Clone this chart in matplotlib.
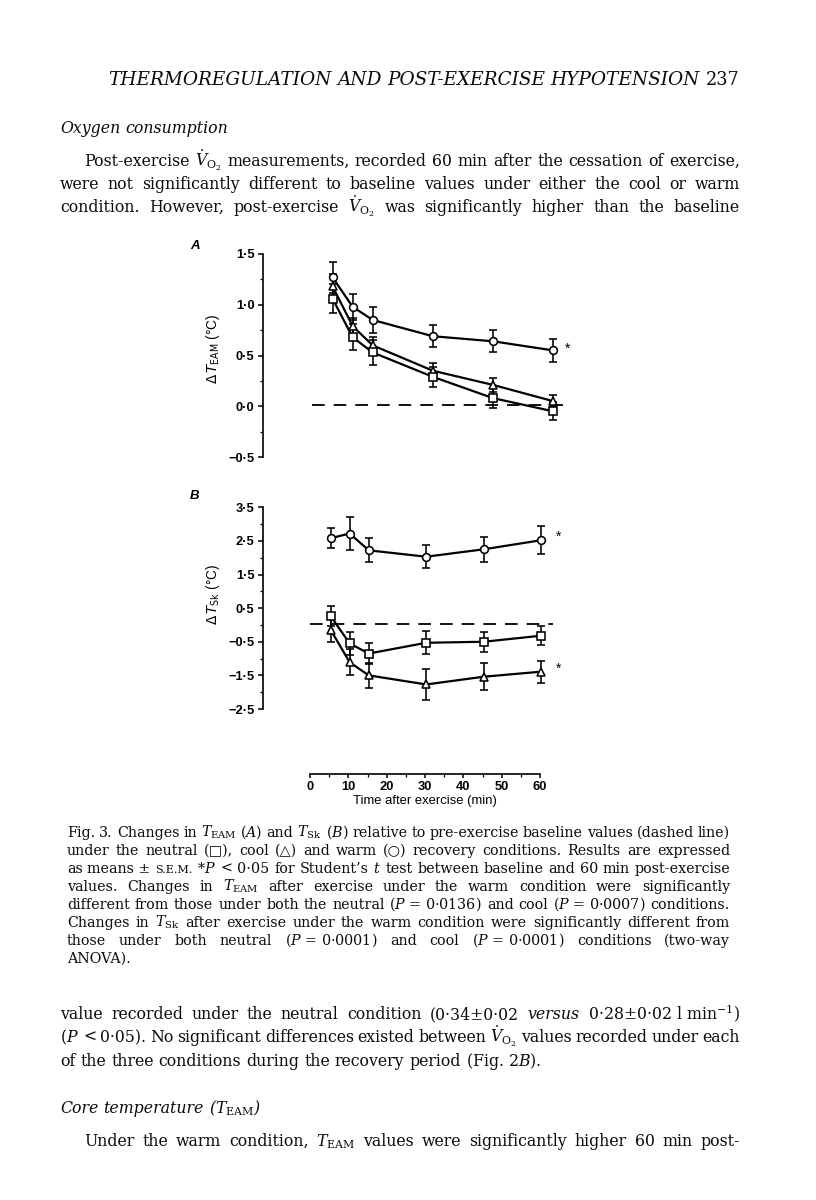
import matplotlib
matplotlib.use('Agg')
import numpy as np
import matplotlib.pyplot as plt
from matplotlib.ticker import MultipleLocator, FixedLocator, FuncFormatter, NullLocator

# ---------------- data ----------------
time_min = [5, 10, 15, 30, 45, 60]

team_neutral = [1.06, 0.68, 0.53, 0.29, 0.08, -0.05]
team_neutral_err = [0.14, 0.13, 0.12, 0.10, 0.10, 0.09]
team_cool = [1.18, 0.79, 0.60, 0.35, 0.21, 0.05]
team_cool_err = [0.12, 0.08, 0.08, 0.08, 0.07, 0.06]
team_warm = [1.27, 0.98, 0.85, 0.69, 0.64, 0.55]
team_warm_err = [0.15, 0.13, 0.13, 0.11, 0.11, 0.11]

tsk_neutral = [0.27, -0.55, -0.85, -0.53, -0.50, -0.32]
tsk_neutral_err = [0.30, 0.33, 0.30, 0.34, 0.30, 0.29]
tsk_cool = [-0.14, -1.11, -1.50, -1.77, -1.54, -1.39]
tsk_cool_err = [0.36, 0.38, 0.38, 0.46, 0.40, 0.33]
tsk_warm = [2.58, 2.72, 2.22, 2.03, 2.25, 2.52]
tsk_warm_err = [0.29, 0.48, 0.36, 0.35, 0.38, 0.42]

baseline = 0.0
teamA_ticks = [-0.5, 0.0, 0.5, 1.0, 1.5]
tskB_ticks = [-2.5, -1.5, -0.5, 0.5, 1.5, 2.5, 3.5]
time_ticks = [0, 10, 20, 30, 40, 50, 60]

# ---------------- page setup ----------------
W, H = 816, 1200
plt.rcParams['font.family'] = ['Liberation Sans', 'DejaVu Sans']
fig = plt.figure(figsize=(W / 100, H / 100), dpi=100)
fig.patch.set_facecolor('white')
renderer = fig.canvas.get_renderer()

SERIF = ['DejaVu Serif', 'DejaVu Sans']
INK = '#0a0a0a'


def P(x, y):
    return (x / W, 1 - y / H)


def _build(tokens, size, style):
    objs = []
    for tok in tokens:
        if isinstance(tok, tuple):
            s, kw = tok
        else:
            s, kw = tok, {}
        props = dict(fontsize=size, family=SERIF, style=style,
                     math_fontfamily='dejavuserif', va='baseline', ha='left',
                     color=INK)
        kw = dict(kw)
        if 'rel' in kw:
            kw['fontsize'] = size * kw.pop('rel')
        props.update(kw)
        objs.append(fig.text(0, 0, s, **props))
    widths = [t.get_window_extent(renderer).width for t in objs]
    a = fig.text(0, 0, 'n n', fontsize=size, family=SERIF)
    b = fig.text(0, 0, 'nn', fontsize=size, family=SERIF)
    space = a.get_window_extent(renderer).width - b.get_window_extent(renderer).width
    a.remove(); b.remove()
    return objs, widths, space


def line(tokens, x0, y, size, x1=None, style='normal', fit=False):
    objs, widths, space = _build(tokens, size, style)
    n = len(objs)
    if x1 is not None and n > 1:
        if fit:
            total = sum(widths) + (n - 1) * space
            size = size * (x1 - x0) / total
            for t in objs:
                t.remove()
            objs, widths, space = _build(tokens, size, style)
        else:
            for _ in range(8):
                gap = (x1 - x0 - sum(widths)) / (n - 1)
                if gap >= 0.55 * space:
                    break
                for t in objs:
                    t.remove()
                size *= 0.985
                objs, widths, space = _build(tokens, size, style)
        gap = (x1 - x0 - sum(widths)) / (n - 1)
    else:
        gap = space
    x = x0
    for t, w in zip(objs, widths):
        t.set_position(P(x, y))
        x += w + gap
    return size


VO2 = r'$\dot{V}_{\mathrm{O}_2}$'
TEAM = r'$T_{\mathrm{EAM}}$'
TSK = r'$T_{\mathrm{Sk}}$'

# header
hs = line(['THERMOREGULATION', 'AND', 'POST-EXERCISE', 'HYPOTENSION'], 108, 85, 12.0,
          x1=700, style='italic', fit=True)
fig.text(*P(740, 85), '237', fontsize=hs * 0.95, family=SERIF, ha='right', va='baseline',
         color=INK)

BODY = 11.3
line(['Oxygen', 'consumption'], 60, 133, BODY, style='italic')
line(['Post-exercise', VO2, 'measurements,', 'recorded', '60', 'min', 'after', 'the',
      'cessation', 'of', 'exercise,'], 84, 166, BODY, x1=740)
line('were not significantly different to baseline values under either the cool or warm'.split(),
     60, 189, BODY, x1=740)
line(['condition.', 'However,', 'post-exercise', VO2, 'was', 'significantly', 'higher',
      'than', 'the', 'baseline'], 60, 212, BODY, x1=740)

CAP = 10.3
SC = {'rel': 0.78}
cap_lines = [
    (['Fig.', '3.', 'Changes', 'in', TEAM, r'($A$)', 'and', TSK, r'($B$)', 'relative',
      'to', 'pre-exercise', 'baseline', 'values', '(dashed', 'line)'], True),
    (['under', 'the', 'neutral', '(□),', 'cool', '(△)', 'and', 'warm', '(○)', 'recovery',
      'conditions.', 'Results', 'are', 'expressed'], True),
    (['as', 'means ±', ('S.E.M.', SC), r'*$P$', '<', '0·05', 'for', 'Student’s', r'$t$',
      'test', 'between', 'baseline', 'and', '60', 'min', 'post-exercise'], True),
    (['values.', 'Changes', 'in', TEAM, 'after', 'exercise', 'under', 'the', 'warm',
      'condition', 'were', 'significantly'], True),
    (['different', 'from', 'those', 'under', 'both', 'the', 'neutral', r'($P$ = 0·0136)',
      'and', 'cool', r'($P$ = 0·0007)', 'conditions.'], True),
    (['Changes', 'in', TSK, 'after', 'exercise', 'under', 'the', 'warm', 'condition',
      'were', 'significantly', 'different', 'from'], True),
    (['those', 'under', 'both', 'neutral', r'($P$ = 0·0001)', 'and', 'cool',
      r'($P$ = 0·0001)', 'conditions', '(two-way'], True),
    (['ANOVA).'], False),
]
cap_y = [837, 855, 873, 891, 909, 927, 945, 963]
for (toks, just), yy in zip(cap_lines, cap_y):
    line(toks, 67, yy, CAP, x1=730 if just else None)

line(['value', 'recorded', 'under', 'the', 'neutral', 'condition', '(0·34±0·02',
      ('versus', {'style': 'italic'}), r'0·28±0·02 l min$^{-1}$)'], 60, 1019, BODY, x1=740)
line([r'($P$', '<', '0·05).', 'No', 'significant', 'differences', 'existed', 'between',
      VO2, 'values', 'recorded', 'under', 'each'], 60, 1042, BODY, x1=740)
line('of the three conditions during the recovery period'.split() + [r'(Fig. 2$B$).'],
     60, 1066, BODY)
line(['Core', 'temperature', '(' + TEAM + ')'], 60, 1113, BODY, style='italic')
line(['Under', 'the', 'warm', 'condition,', TEAM, 'values', 'were', 'significantly',
      'higher', '60', 'min', 'post-'], 84, 1146, BODY, x1=740)


# ---------------- chart ----------------
def add_ax(x0, x1, ytop, ybot):
    return fig.add_axes([x0 / W, 1 - ybot / H, (x1 - x0) / W, (ybot - ytop) / H])


def fmt(v, pos):
    if abs(v) < 1e-9:
        v = 0.0
    return f'{v:.1f}'.replace('.', '·').replace('-', '−')


def style_yaxis(ax):
    for s in ['top', 'right', 'bottom']:
        ax.spines[s].set_visible(False)
    ax.spines['left'].set_linewidth(1.2)
    ax.xaxis.set_major_locator(NullLocator())
    ax.xaxis.set_minor_locator(NullLocator())
    ax.yaxis.set_major_formatter(FuncFormatter(fmt))
    ax.tick_params(axis='y', which='major', direction='out', length=3.8, width=1.1,
                   labelsize=9.3, pad=2)
    ax.tick_params(axis='y', which='minor', direction='out', length=2.2, width=0.9)
    for lab in ax.get_yticklabels():
        lab.set_fontweight('bold')
    ax.patch.set_alpha(0)


LW = 1.6
series_style = dict(color='black', lw=LW)
mk = dict(ms=5.6, mfc='white', mec='black', mew=1.15, linestyle='none')


def draw(ax, series):
    for vals, err, m in series:
        ax.errorbar(time_min, vals, yerr=err, fmt='none', ecolor='black',
                    elinewidth=1.15, capsize=2.6, capthick=1.15, zorder=2)
    for vals, err, m in series:
        ax.plot(time_min, vals, '-', zorder=3, **series_style)
    for vals, err, m in series:
        ms = dict(mk)
        if m == '^':
            ms['ms'] = 6.2
        if m == 's':
            ms['ms'] = 5.4
        ax.plot(time_min, vals, marker=m, zorder=4, **ms)


# Panel A
axA = add_ax(262.5, 580, 254, 457)
axA.set_xlim(-12.46, 66.67)
axA.set_ylim(-0.5, 1.5)
axA.yaxis.set_major_locator(FixedLocator(teamA_ticks))
axA.yaxis.set_minor_locator(MultipleLocator(0.25))
style_yaxis(axA)
axA.hlines(baseline + 0.01, -0.2, 64.2, colors='black', lw=1.3, linestyles=(0, (7, 5)), zorder=1)
draw(axA, [(team_warm, team_warm_err, 'o'),
           (team_cool, team_cool_err, '^'),
           (team_neutral, team_neutral_err, 's')])
axA.text(63.6, team_warm[-1] + 0.02, '*', ha='center', va='center', fontsize=10)

# Panel B
axB = add_ax(262.5, 580, 507.3, 709)
axB.set_xlim(-12.78, 70.2)
axB.set_ylim(-2.5, 3.5)
axB.yaxis.set_major_locator(FixedLocator(tskB_ticks))
axB.yaxis.set_minor_locator(MultipleLocator(0.5))
style_yaxis(axB)
axB.hlines(baseline + 0.04, -0.3, 63.1, colors='black', lw=1.3, linestyles=(0, (7, 5)), zorder=1)
draw(axB, [(tsk_warm, tsk_warm_err, 'o'),
           (tsk_neutral, tsk_neutral_err, 's'),
           (tsk_cool, tsk_cool_err, '^')])
axB.text(64.7, tsk_warm[-1] + 0.1, '*', ha='center', va='center', fontsize=10)
axB.text(64.7, tsk_cool[-1] + 0.1, '*', ha='center', va='center', fontsize=10)

# Shared time axis
axX = add_ax(310, 540, 764, 774)
axX.set_xlim(0, 60)
axX.set_ylim(0, 1)
for s in ['top', 'right', 'left']:
    axX.spines[s].set_visible(False)
axX.spines['bottom'].set_linewidth(1.2)
axX.yaxis.set_major_locator(NullLocator())
axX.xaxis.set_major_locator(FixedLocator(time_ticks))
axX.xaxis.set_minor_locator(MultipleLocator(5))
axX.tick_params(axis='x', which='major', direction='out', length=3.2, width=1.1,
                labelsize=9.3, pad=1.5)
axX.tick_params(axis='x', which='minor', direction='out', length=2.0, width=0.9)
for lab in axX.get_xticklabels():
    lab.set_fontweight('bold')
axX.set_xlabel('Time after exercise (min)', fontsize=9.4, labelpad=1.5)
axX.patch.set_alpha(0)

# panel letters and y labels
fig.text(*P(190, 249), 'A', fontsize=9.5, style='italic', weight='bold', va='baseline')
fig.text(*P(190, 499), 'B', fontsize=9.5, style='italic', weight='bold', va='baseline')
fig.text(*P(213, 349), r'$\Delta\,T_{\mathrm{EAM}}$ (°C)', rotation=90, ha='center',
         va='center', fontsize=9.8, math_fontfamily='dejavusans')
fig.text(*P(213, 594), r'$\Delta\,T_{\mathrm{Sk}}$ (°C)', rotation=90, ha='center',
         va='center', fontsize=9.8, math_fontfamily='dejavusans')

fig.savefig('out.png', dpi=100, facecolor='white')
